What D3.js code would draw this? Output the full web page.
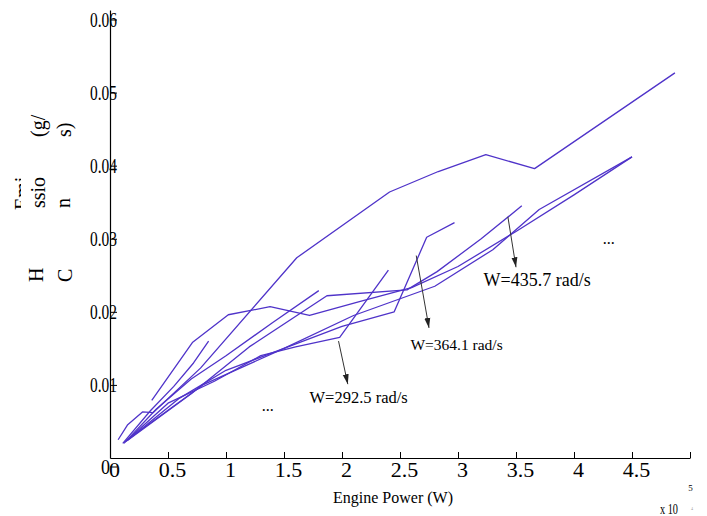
<!DOCTYPE html>
<html>
<head>
<meta charset="utf-8">
<script src="https://cdn.jsdelivr.net/npm/d3@7"></script>
<style>
  html, body { margin: 0; padding: 0; background: #fff; }
  svg { display: block; }
  svg text { font-family: "Liberation Serif", "Times New Roman", serif; fill: #000; }
</style>
</head>
<body>
<svg id="chart" width="707" height="516"></svg>
<script>
// power in x10^4 W, HC emission in g/s
const xTicks = [0, 0.5, 1, 1.5, 2, 2.5, 3, 3.5, 4, 4.5, 5];
const yTicks = [0, 0.01, 0.02, 0.03, 0.04, 0.05, 0.06];

const s1 = [[0.07,0.0025],[0.15,0.0045],[0.28,0.0063],[0.37,0.0062],[0.78,0.0123],[1.61,0.0274],[2.41,0.0364],[2.83,0.0392],[3.24,0.0415],[3.66,0.0396],[4.87,0.0527]];
const s2 = [[0.36,0.0079],[0.71,0.0158],[1.02,0.0196],[1.38,0.0207],[1.72,0.0195],[2.15,0.0214],[2.6,0.0233],[3.0,0.0262],[3.5,0.0310],[4.0,0.0360],[4.5,0.0412]];
const s3 = [[0.11,0.0020],[0.35,0.0065],[0.55,0.0098],[0.72,0.0130],[0.85,0.0160]];
const s4 = [[0.12,0.0020],[0.4,0.0067],[0.7,0.0108],[1.0,0.0140],[1.4,0.0185],[1.8,0.0229]];
const s5 = [[0.13,0.0022],[0.5,0.0075],[0.9,0.0105],[1.3,0.0140],[1.6,0.0152],[1.98,0.0165],[2.4,0.0257]];
const s6 = [[0.14,0.0023],[0.6,0.0082],[1.0,0.0120],[1.5,0.0150],[2.0,0.0180],[2.45,0.0200],[2.73,0.0302],[2.97,0.0322]];
const s7 = [[0.15,0.0024],[0.7,0.0088],[1.2,0.0152],[1.87,0.0222],[2.56,0.0230],[2.82,0.0255],[3.2,0.0300],[3.55,0.0345]];
const s8 = [[0.15,0.0025],[0.8,0.0100],[1.5,0.0150],[2.1,0.0195],[2.8,0.0235],[3.3,0.0285],[3.7,0.0340],[4.5,0.0412]];
const series = [s1, s2, s3, s4, s5, s6, s7, s8];

// speed annotations: label, arrow start, arrow end (data coords), label anchor
const notes = [
  { text: "W=435.7 rad/s", from: [3.43, 0.0330], to: [3.50, 0.0261], at: [3.22, 0.0236], size: 18 },
  { text: "W=364.1 rad/s", from: [2.64, 0.0277], to: [2.75, 0.0178], at: [2.59, 0.0148], size: 15.5 },
  { text: "W=292.5 rad/s", from: [1.97, 0.0160], to: [2.05, 0.0101], at: [1.72, 0.0075], size: 16.5 }
];

const serif = "'Liberation Serif', 'Times New Roman', serif";
const svg = d3.select("#chart");
const x = d3.scaleLinear().domain([0, 5]).range([110, 690]);
const y = d3.scaleLinear().domain([0, 0.0613]).range([458, 10]);

// x axis
const xAxis = svg.append("g")
  .attr("transform", `translate(0,${y(0)})`)
  .call(d3.axisBottom(x).tickValues(xTicks).tickSizeInner(-6).tickSizeOuter(0)
    .tickFormat(d => d === 0 ? "0" : String(d)));
xAxis.attr("font-family", null);
xAxis.select(".domain").attr("stroke", "#000").attr("stroke-width", 1.2);
xAxis.selectAll(".tick line").attr("stroke", "#000");
xAxis.selectAll(".tick text")
  .attr("y", 19).attr("dy", 0).attr("dx", 4)
  .style("font-size", "22px")
  .style("font-family", serif);
xAxis.selectAll(".tick text").filter(d => d === 5)
  .style("font-size", "9px").attr("y", 33).attr("dx", 0);

// y axis
const yAxis = svg.append("g")
  .attr("transform", `translate(${x(0)},0)`)
  .call(d3.axisLeft(y).tickValues(yTicks).tickSizeInner(-7).tickSizeOuter(0)
    .tickFormat(d => d === 0 ? "0" : d.toFixed(2)));
yAxis.attr("font-family", null);
yAxis.select(".domain").attr("stroke", "#000").attr("stroke-width", 1.2);
yAxis.selectAll(".tick line").attr("stroke", "#000");
yAxis.selectAll(".tick text")
  .attr("x", d => d === 0 ? 0 : 7).attr("dy", "0.34em")
  .attr("textLength", d => d === 0 ? 9 : 27)
  .attr("lengthAdjust", "spacingAndGlyphs")
  .style("font-size", "20px")
  .style("font-family", serif);
yAxis.selectAll(".tick").filter(d => d === 0).attr("transform", `translate(0,${y(0) + 9})`);

// curves
const line = d3.line().x(d => x(d[0])).y(d => y(d[1]));
svg.append("g").selectAll("path")
  .data(series)
  .join("path")
  .attr("d", line)
  .attr("fill", "none")
  .attr("stroke", "#4f33c9")
  .attr("stroke-width", 1.3)
  .attr("stroke-linejoin", "round");

// arrows
svg.append("defs").append("marker")
  .attr("id", "head")
  .attr("viewBox", "0 0 10 10")
  .attr("refX", 10).attr("refY", 5)
  .attr("markerWidth", 10).attr("markerHeight", 10)
  .attr("markerUnits", "userSpaceOnUse")
  .attr("orient", "auto")
  .append("path")
  .attr("d", "M0,2 L10,5 L0,8 Z")
  .attr("fill", "#222");

const ann = svg.append("g");
notes.forEach(n => {
  ann.append("line")
    .attr("x1", x(n.from[0])).attr("y1", y(n.from[1]))
    .attr("x2", x(n.to[0])).attr("y2", y(n.to[1]))
    .attr("stroke", "#333").attr("stroke-width", 1)
    .attr("marker-end", "url(#head)");
  ann.append("text")
    .attr("x", x(n.at[0])).attr("y", y(n.at[1]))
    .style("font-size", n.size + "px")
    .style("font-family", serif)
    .text(n.text);
});

// ellipsis marks
[[4.3, 0.0293], [1.36, 0.0064]].forEach(p => {
  ann.append("text")
    .attr("x", x(p[0])).attr("y", y(p[1]))
    .attr("text-anchor", "middle")
    .style("font-size", "16px")
    .style("font-family", serif)
    .text("...");
});

// axis titles
svg.append("text")
  .attr("x", 393).attr("y", 503)
  .attr("text-anchor", "middle")
  .style("font-size", "16px")
  .style("font-family", serif)
  .text("Engine Power (W)");
svg.append("text")
  .attr("x", 660).attr("y", 514)
  .attr("textLength", 18).attr("lengthAdjust", "spacingAndGlyphs")
  .style("font-size", "14px")
  .style("font-family", serif)
  .text("x 10");
svg.append("text")
  .attr("x", 691).attr("y", 510)
  .style("font-size", "4px").style("fill", "#999")
  .text("4");

// broken y-axis title pieces (rotated)
svg.append("clipPath").attr("id", "emiClip")
  .append("rect").attr("x", 13).attr("y", 170).attr("width", 8).attr("height", 50);
const yTitle = [
  { t: "H", bx: 43, by: 282 },
  { t: "ssio", bx: 45, by: 208 },
  { t: "(g/", bx: 45, by: 137 },
  { t: "C", bx: 72, by: 282 },
  { t: "n", bx: 70, by: 208 },
  { t: "s)", bx: 71, by: 137 }
];
yTitle.forEach(p => {
  svg.append("text")
    .attr("transform", `translate(${p.bx},${p.by}) rotate(-90)`)
    .style("font-size", "20px")
    .style("font-family", serif)
    .text(p.t);
});
svg.append("g").attr("clip-path", "url(#emiClip)")
  .append("text")
  .attr("transform", "translate(29,210) rotate(-90)")
  .style("font-size", "20px")
  .style("font-family", serif)
  .text("Emi");
</script>
</body>
</html>
